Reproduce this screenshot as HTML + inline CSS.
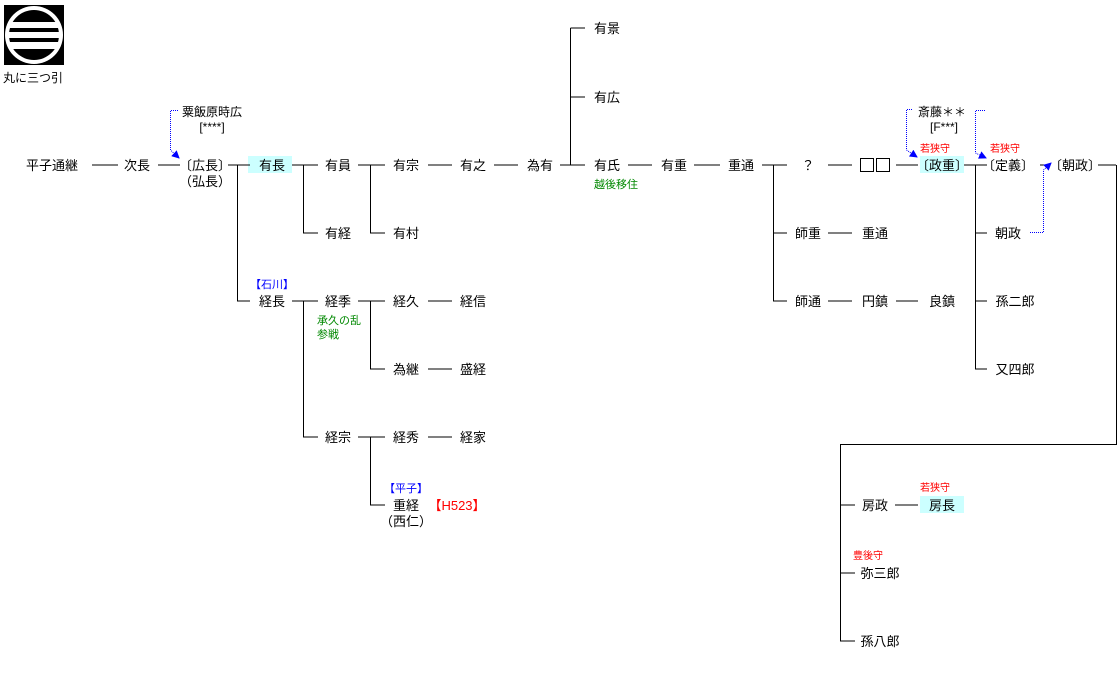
<!DOCTYPE html>
<html><head><meta charset="utf-8"><style>
html,body{margin:0;padding:0;background:#fff;}
svg{display:block;font-family:"Liberation Sans","Noto Sans CJK JP",sans-serif;}
text{font-size:13px;fill:#000;}
.s{font-size:10px;}
.r{fill:#f00;}.g{fill:#080;}.b{fill:#00f;}
</style></head><body>
<svg width="1120" height="677" viewBox="0 0 1120 677">
<defs><marker id="a" markerWidth="8" markerHeight="8" refX="7" refY="4" orient="auto"><path d="M0,0 L8,4 L0,8z" fill="#00f"/></marker>
<clipPath id="c"><circle cx="34" cy="35" r="25"/></clipPath></defs>
<!-- logo -->
<rect x="4" y="5" width="60" height="60" fill="#000"/>
<circle cx="34" cy="35" r="29" fill="#fff"/>
<g clip-path="url(#c)" fill="#000">
<rect x="0" y="0" width="70" height="22"/>
<rect x="0" y="28" width="70" height="4"/>
<rect x="0" y="38" width="70" height="4"/>
<rect x="0" y="49" width="70" height="20"/>
</g>
<text x="3" y="82" style="font-size:12px">丸に三つ引</text>
<!-- highlights -->
<rect x="248" y="156" width="44" height="17" fill="#ccffff"/>
<rect x="920" y="156" width="44" height="17" fill="#ccffff"/>
<rect x="920" y="496" width="44" height="17" fill="#ccffff"/>
<g stroke="#000" stroke-width="1" fill="none">
<path d="M92 165H118M158 165H180M228 165H250M292 165H318M358 165H385M428 165H452M494 165H518M560 165H585M628 165H652M694 165H720M762 165H787M828 165H852M896 165H918M964 165H987M1040 165H1048M1098 165H1116"/>
<path d="M237.5 165V301H250"/>
<path d="M303.5 165V233H318"/>
<path d="M370.5 165V233H385"/>
<path d="M570.5 28V165M570.5 28H585M570.5 97H585"/>
<path d="M773.5 165V301H787M773.5 233H787M828 233H852M828 301H852M896 301H918"/>
<path d="M975.5 165V369H987M975.5 233H987M975.5 301H987"/>
<path d="M1116.5 165V444.5H840.5V641H855M840.5 505H855M840.5 573H855M895 505H918"/>
<path d="M292 301H318M303.5 301V437H318"/>
<path d="M358 301H385M370.5 301V369H385M428 301H452M428 369H452"/>
<path d="M358 437H385M370.5 437V505H385M428 437H452"/>
<rect x="860.5" y="158.5" width="13" height="13"/>
<rect x="876.5" y="158.5" width="13" height="13"/>
</g>
<g stroke="#00f" stroke-width="1" fill="none" stroke-dasharray="1,1">
<path d="M178 110.5H170.5V150L179 158" marker-end="url(#a)"/>
<path d="M912 109.5H906.5V150L917 157" marker-end="url(#a)"/>
<path d="M985 110.5H975.5V153L986 158" marker-end="url(#a)"/>
<path d="M1030 232.5H1043.5V170L1051 163" marker-end="url(#a)"/>
</g>
<g text-anchor="middle">
<text x="52" y="170">平子通継</text><text x="137" y="170">次長</text><text x="205" y="170">〔広長〕</text><text x="205" y="186">（弘長）</text>
<text x="272" y="170">有長</text><text x="338" y="170">有員</text><text x="406" y="170">有宗</text><text x="473" y="170">有之</text><text x="540" y="170">為有</text>
<text x="607" y="33">有景</text><text x="607" y="102">有広</text><text x="607" y="170">有氏</text><text x="616" y="188" class="g" style="font-size:11px">越後移住</text>
<text x="674" y="170">有重</text><text x="741" y="170">重通</text><text x="808" y="170">？</text>
<text x="942" y="170">〔政重〕</text><text x="1008" y="170">〔定義〕</text><text x="1075" y="170">〔朝政〕</text>
<text x="212" y="116" style="font-size:12px">粟飯原時広</text><text x="212" y="131" style="font-size:12px">[****]</text>
<text x="942" y="116" style="font-size:12px">斎藤＊＊</text><text x="944" y="131" style="font-size:12px">[F***]</text>
<text x="935" y="152" class="s r">若狭守</text><text x="1005" y="152" class="s r">若狭守</text><text x="935" y="491" class="s r">若狭守</text><text x="868" y="559" class="s r">豊後守</text>
<text x="338" y="238">有経</text><text x="406" y="238">有村</text>
<text x="808" y="238">師重</text><text x="875" y="238">重通</text><text x="1008" y="238">朝政</text>
<text x="272" y="288" class="b" style="font-size:11px">【石川】</text>
<text x="272" y="306">経長</text><text x="338" y="306">経季</text><text x="406" y="306">経久</text><text x="473" y="306">経信</text>
<text x="808" y="306">師通</text><text x="875" y="306">円鎮</text><text x="942" y="306">良鎮</text><text x="1015" y="306">孫二郎</text>
<text x="406" y="374">為継</text><text x="473" y="374">盛経</text><text x="1015" y="374">又四郎</text>
<text x="338" y="442">経宗</text><text x="406" y="442">経秀</text><text x="473" y="442">経家</text>
<text x="406" y="492" class="b" style="font-size:11px">【平子】</text>
<text x="406" y="510">重経</text><text x="406" y="526">（西仁）</text><text x="457" y="510" class="r">【H523】</text>
<text x="875" y="510">房政</text><text x="942" y="510">房長</text>
<text x="880" y="578">弥三郎</text><text x="880" y="646">孫八郎</text>
</g>
<text x="317" y="324" class="g" style="font-size:11px">承久の乱</text><text x="317" y="338" class="g" style="font-size:11px">参戦</text>
</svg>
</body></html>
